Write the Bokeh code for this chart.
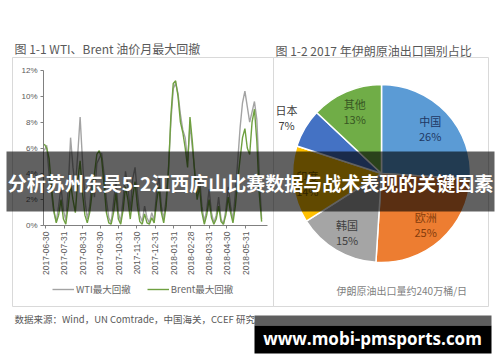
import math
import pandas as pd
from bokeh.plotting import figure
from bokeh.models import (Range1d, LinearAxis, DatetimeAxis, FixedTicker,
                          DatetimeTickFormatter, PrintfTickFormatter, Legend, LegendItem)
from bokeh.core.properties import value
from bokeh.embed import file_html
from bokeh.resources import INLINE

# ---------------- data ----------------
series_start = "2017-06-28"
step_days = 4
wti = [5.8, 6.2, 4.0, 2.5, 1.0, 0.3, 1.5, 3.0, 1.2, 0.4,
       2.8, 6.8, 4.5, 3.0, 5.5, 8.4, 5.0, 2.0, 0.5, 1.5,
       3.5, 2.2, 4.8, 5.2, 5.6, 4.0, 2.0, 0.6, 0.2, 1.8,
       3.5, 1.0, 0.3, 2.0, 4.2, 3.0, 1.2, 3.6, 4.5, 2.5,
       0.8, 0.3, 1.5, 0.6, 0.2, 1.0, 0.4, 2.5, 3.8, 1.5,
       0.5, 2.0, 4.5, 8.0, 10.6, 11.0, 10.2, 8.6, 7.4, 6.8,
       5.0, 7.8, 6.0, 4.2, 2.5, 3.8, 1.5, 0.3, 1.2, 2.8,
       1.0, 0.2, 0.8, 2.2, 0.5, 0.1, 1.2, 3.0, 1.5, 0.4,
       2.5, 5.0, 7.6, 9.5, 10.4, 9.2, 8.0, 8.8, 9.6, 8.2,
       4.0, 0.5]
brent = [6.3, 6.0, 5.2, 3.0, 1.2, 0.2, 0.8, 2.0, 0.5, 0.1,
         1.5, 3.2, 2.0, 1.0, 3.5, 5.0, 2.5, 0.8, 0.2, 1.0,
         2.5, 4.0, 5.5, 5.8, 5.2, 3.2, 1.0, 0.2, 0.1, 1.0,
         2.5, 0.5, 0.1, 1.2, 3.0, 2.0, 0.5, 2.2, 3.4, 1.5,
         0.3, 0.1, 0.9, 0.2, 0.1, 0.6, 0.2, 1.8, 3.0, 1.0,
         0.2, 1.5, 4.2, 8.5, 11.0, 11.2, 10.0, 8.0, 7.2, 6.0,
         4.5, 8.4, 6.5, 4.0, 2.0, 3.0, 1.0, 0.1, 0.8, 2.0,
         0.6, 0.1, 0.5, 1.5, 0.3, 0.1, 0.8, 2.2, 1.0, 0.2,
         1.5, 3.5, 5.2, 6.8, 7.5, 6.0, 5.5, 8.0, 9.0, 6.5,
         2.5, 0.3]
month_ticks = ["2017-06-30", "2017-07-31", "2017-08-31", "2017-09-30",
               "2017-10-31", "2017-11-30", "2017-12-31", "2018-01-31",
               "2018-02-28", "2018-03-31", "2018-04-30", "2018-05-31"]
pct_ticks = [0, 2, 4, 6, 8, 10, 12]
legend_labels = ["WTI最大回撤", "Brent最大回撤"]

pie_names = ["中国", "欧洲", "韩国", "印度", "日本", "其他"]
pie_pcts = [26, 25, 15, 14, 7, 13]

left_title = "图 1-1 WTI、Brent 油价月最大回撤"
right_title = "图 1-2 2017 年伊朗原油出口国别占比"
source_note = "数据来源：Wind，UN Comtrade，中国海关，CCEF 研究"
pie_note = "伊朗原油出口量约240万桶/日"
banner_text = "分析苏州东吴5-2江西庐山比赛数据与战术表现的关键因素"
watermark = "www.mobi-pmsports.com"

# ---------------- styles ----------------
pie_colors = ["#5B9BD5", "#ED7D31", "#A5A5A5", "#FFC000", "#4472C4", "#70AD47"]
pie_label_colors = ["#203864", "#843C0C", "#404040", "#7F6000", "#404040", "#375623"]
pie_label_r = [0.75, 0.75, 0.76, 0.84, 1.24, 0.76]
CJK = value("Noto Sans CJK SC")
W, H = 500, 362

def Y(py):
    return H - py

p = figure(width=W, height=H, x_range=Range1d(0, W), y_range=Range1d(0, H),
           output_backend="svg", toolbar_location=None, min_border=0,
           x_axis_type=None, y_axis_type=None)
p.outline_line_color = None
p.background_fill_color = "white"
p.border_fill_color = "white"

# frames
p.quad(left=[12, 273], right=[273, 488], top=[Y(57), Y(57)], bottom=[Y(306), Y(306)],
       fill_color=None, line_color="#d9d9d9", line_width=1)

# ---------- line chart ranges ----------
t0 = pd.Timestamp(month_ticks[0])
t_last = pd.Timestamp(month_ticks[-1])
ppd = (245 - 45) / (t_last - t0).days
x_start = t0 - pd.Timedelta(days=45 / ppd)
x_end = t0 + pd.Timedelta(days=(W - 45) / ppd)
p.extra_x_ranges = {"date": Range1d(start=x_start, end=x_end)}
pct_per_px = 12 / (225 - 70)
p.extra_y_ranges = {"pct": Range1d(start=-(H - 225) * pct_per_px, end=225 * pct_per_px)}

dates = [pd.Timestamp(series_start) + pd.Timedelta(days=step_days * i) for i in range(len(wti))]
r_wti = p.line(dates, wti, x_range_name="date", y_range_name="pct",
               line_color="#A3A3A3", line_width=1.4)
r_brent = p.line(dates, brent, x_range_name="date", y_range_name="pct",
                 line_color="#6FA040", line_width=1.4)

yax = LinearAxis(y_range_name="pct", fixed_location=43, bounds=(0, 12),
                 ticker=FixedTicker(ticks=pct_ticks),
                 formatter=PrintfTickFormatter(format="%d%%"))
yax.major_label_text_font_size = "8px"
yax.major_label_text_color = "#595959"
yax.axis_line_color = "#808080"
yax.major_tick_line_color = "#808080"
yax.major_tick_out = 3
yax.major_tick_in = 0
yax.minor_tick_line_color = None
yax.major_label_standoff = 3
yax.level = "underlay"
p.add_layout(yax, "left")

tick_ms = [pd.Timestamp(d).value // 10**6 for d in month_ticks]
fmt = "%Y-%m-%d"
xax = DatetimeAxis(x_range_name="date", y_range_name="pct", fixed_location=0,
                   bounds=(t0 - pd.Timedelta(days=2 / ppd), t0 + pd.Timedelta(days=222 / ppd)),
                   ticker=FixedTicker(ticks=tick_ms),
                   formatter=DatetimeTickFormatter(days=fmt, months=fmt, years=fmt,
                                                   hours=fmt, hourmin=fmt,
                                                   strip_leading_zeros=False))
xax.major_label_orientation = math.pi / 2
xax.major_label_text_font_size = "8.5px"
xax.major_label_text_color = "#595959"
xax.axis_line_color = "#808080"
xax.major_tick_line_color = "#808080"
xax.major_tick_out = 3
xax.major_tick_in = 0
xax.minor_tick_line_color = None
xax.major_label_standoff = 3
xax.level = "underlay"
p.add_layout(xax, "below")

legend = Legend(items=[LegendItem(label=legend_labels[0], renderers=[r_wti]),
                       LegendItem(label=legend_labels[1], renderers=[r_brent])],
                orientation="horizontal", location=(52, 66),
                border_line_color=None, background_fill_alpha=0,
                padding=0, margin=0, spacing=16, glyph_width=22, glyph_height=10,
                label_standoff=2, label_text_font="Noto Sans CJK SC",
                label_text_font_size="9.5px", label_text_color="#666666")
p.add_layout(legend)

# ---------- pie ----------
cx, cy, R = 381, Y(173), 89
starts, ends, lx, ly = [], [], [], []
cum = 0
for pct, rf in zip(pie_pcts, pie_label_r):
    a0 = cum / 100 * 2 * math.pi
    cum += pct
    a1 = cum / 100 * 2 * math.pi
    starts.append(math.pi / 2 - a0)
    ends.append(math.pi / 2 - a1)
    mid = (a0 + a1) / 2
    lx.append(cx + rf * R * math.sin(mid))
    ly.append(cy + rf * R * math.cos(mid))
p.wedge(x=cx, y=cy, radius=R, start_angle=starts, end_angle=ends, direction="clock",
        fill_color=pie_colors, line_color="white", line_width=1.5)
p.text(x=lx, y=[v + 7 for v in ly], text=pie_names, text_color=pie_label_colors,
       text_font=CJK, text_font_size=value("11px"), text_align="center", text_baseline="middle")
p.text(x=lx, y=[v - 8 for v in ly], text=[f"{v}%" for v in pie_pcts], text_color=pie_label_colors,
       text_font=CJK, text_font_size=value("11px"), text_align="center", text_baseline="middle")

# ---------- texts ----------
p.text(x=[14], y=[Y(48)], text=[left_title], text_font=CJK, text_font_size=value("12px"),
       text_color="#595959", text_baseline="middle")
p.text(x=[275], y=[Y(50)], text=[right_title], text_font=CJK, text_font_size=value("12px"),
       text_color="#595959", text_baseline="middle")
p.text(x=[336], y=[Y(290)], text=[pie_note], text_font=CJK, text_font_size=value("10px"),
       text_color="#7f7f7f", text_baseline="middle")
p.text(x=[14], y=[Y(318)], text=[source_note], text_font=CJK, text_font_size=value("9.5px"),
       text_color="#595959", text_baseline="middle")

# ---------- overlays ----------
p.quad(left=6, right=494, top=Y(151), bottom=Y(211), fill_color="black", fill_alpha=0.62,
       line_color=None)
p.text(x=[250], y=[Y(182)], text=[banner_text], text_font=CJK, text_font_size=value("19px"),
       text_font_style="bold", text_color="white", text_align="center", text_baseline="middle")
p.quad(left=254, right=491, top=Y(315), bottom=Y(325), fill_color="#5e5e5e", line_color=None)
p.quad(left=254, right=491, top=Y(325), bottom=Y(353), fill_color="black", line_color=None)
p.text(x=[372], y=[Y(338)], text=[watermark], text_font=value("Open Sans"),
       text_font_size=value("17px"), text_font_style="bold", text_color="white",
       text_align="center", text_baseline="middle")

open("out.html", "w").write(file_html(p, INLINE))
